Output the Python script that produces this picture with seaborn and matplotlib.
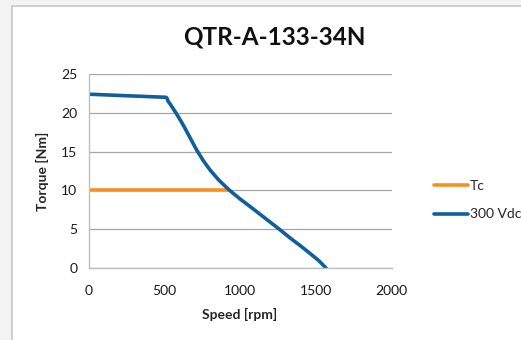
import pandas as pd
import seaborn as sns
import matplotlib.pyplot as plt
from matplotlib.patches import Rectangle

# data
speed_vdc = [0, 250, 510, 518, 525, 540, 580, 626, 670, 714, 760, 802, 860, 930, 1000,
             1070, 1134, 1200, 1266, 1332, 1400, 1464, 1520, 1568]
torque_vdc = [22.4, 22.2, 22.0, 21.9, 21.5, 21.1, 19.9, 18.4, 16.8, 15.2, 13.77, 12.64, 11.33, 10.03, 8.9,
              7.87, 6.9, 5.9, 4.9, 3.85, 2.85, 1.85, 0.95, 0.0]
speed_tc = [0, 920]
torque_tc = [10, 10]
series_names = ['Tc', '300 Vdc']
series_colors = ['#F7901E', '#0F5F9C']

df = pd.concat([
    pd.DataFrame({'Speed': speed_tc, 'Torque': torque_tc, 'Series': series_names[0]}),
    pd.DataFrame({'Speed': speed_vdc, 'Torque': torque_vdc, 'Series': series_names[1]}),
])

sns.set_theme(style='white')
plt.rcParams['font.family'] = ['Lato', 'DejaVu Sans']

fig = plt.figure(figsize=(5.21, 3.40), dpi=100)
fig.patch.set_facecolor('#F3F3F3')
fig.patches.append(Rectangle((12 / 521, -0.1), 1, 1.1 - 6 / 340, transform=fig.transFigure,
                             facecolor='white', edgecolor='#C8C8C8', linewidth=1.2, zorder=-10))

ax = fig.add_axes([88.5 / 521, 1 - 268 / 340, 303 / 521, 194 / 340])
ax.set_zorder(5)
ax.set_facecolor('none')
sns.lineplot(data=df, x='Speed', y='Torque', hue='Series', palette=series_colors,
             linewidth=2.6, sort=False, ax=ax)

ax.set_xlim(0, 2000)
ax.set_ylim(0, 25)
ax.set_xticks([0, 500, 1000, 1500, 2000])
ax.set_yticks([0, 5, 10, 15, 20, 25])
ax.yaxis.grid(True, color='#A6A6A6', linewidth=0.9)
ax.set_axisbelow(True)
for side in ['top', 'right']:
    ax.spines[side].set_visible(False)
for side in ['left', 'bottom']:
    ax.spines[side].set_color('#BFBFBF')
    ax.spines[side].set_linewidth(1.0)
ax.tick_params(axis='both', which='both', direction='out', length=4, width=1,
               color='#BFBFBF', labelsize=10, labelcolor='#1a1a1a', pad=4)
ax.tick_params(axis='x', pad=8)

ax.set_xlabel('Speed [rpm]', fontsize=10, fontweight='bold', labelpad=8)
ax.set_ylabel('Torque [Nm]', fontsize=10, fontweight='bold', labelpad=9)
fig.text(274 / 521, 1 - 45 / 340, 'QTR-A-133-34N', fontsize=17.5, fontweight='bold',
         ha='center', va='baseline', color='#111111')

leg = ax.legend(loc='center left', bbox_to_anchor=(1.1, 0.35), frameon=False,
                fontsize=10, handlelength=2.4, handletextpad=0.15, labelspacing=1.2)
for line in leg.get_lines():
    line.set_linewidth(2.6)

fig.savefig('out.png', dpi=100)
